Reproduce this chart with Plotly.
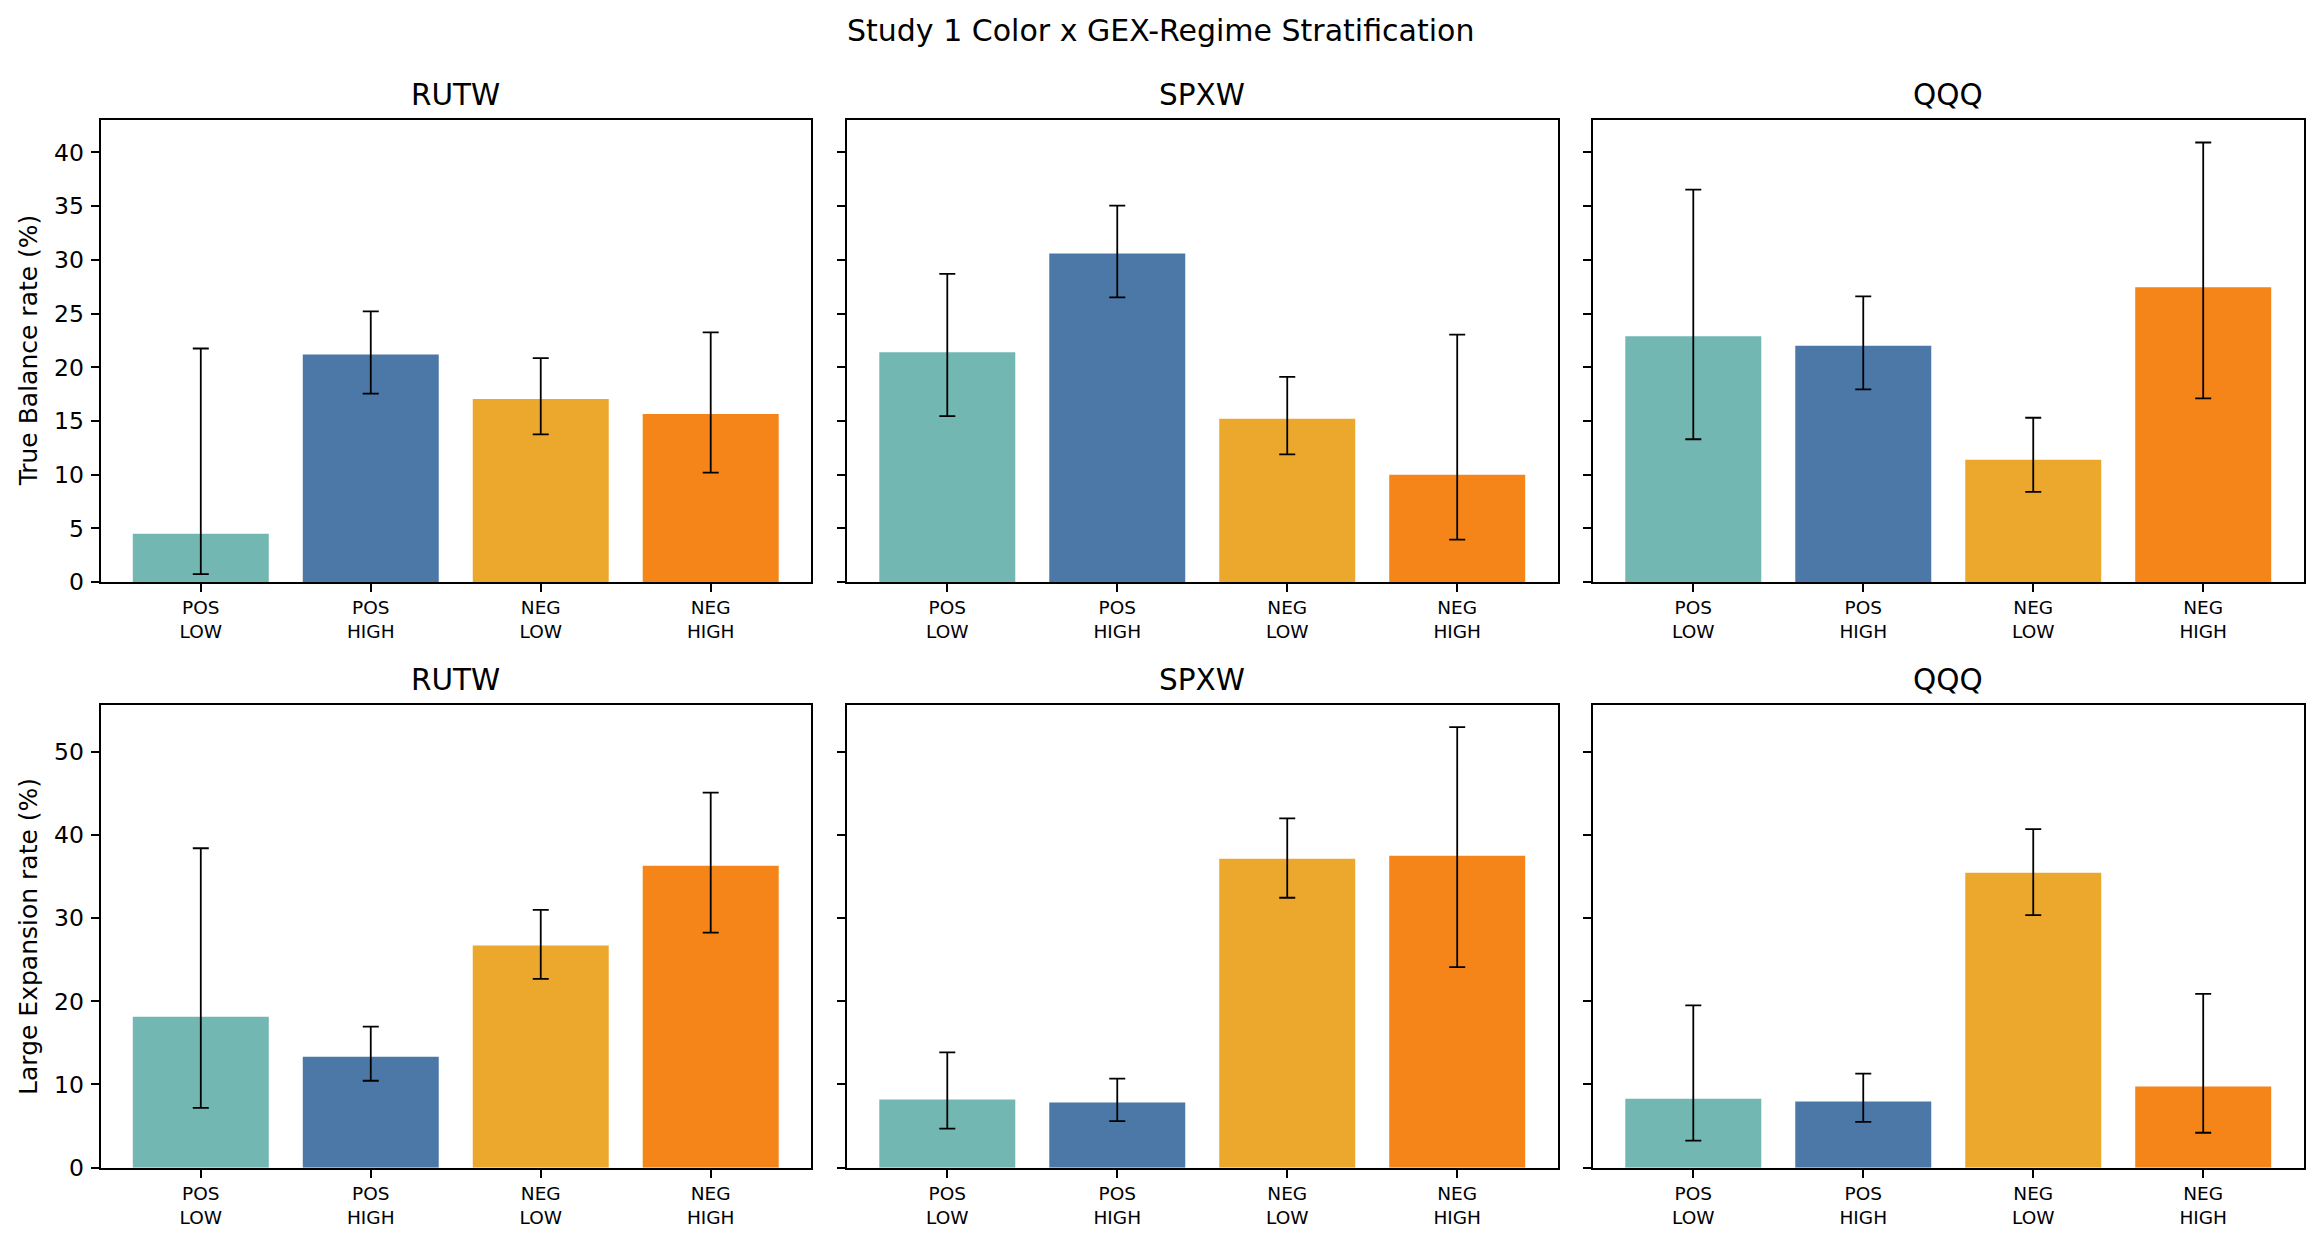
import plotly.graph_objects as go

# ---------------- data ----------------
categories = ["POS<br>LOW", "POS<br>HIGH", "NEG<br>LOW", "NEG<br>HIGH"]
bar_colors = ["#72B7B2", "#4C78A8", "#ECA82C", "#F58518"]
tickers = ["RUTW", "SPXW", "QQQ"]

# True Balance rate (%) : value, CI low, CI high
tb_value = {
    "RUTW": [4.5, 21.2, 17.05, 15.65],
    "SPXW": [21.4, 30.6, 15.2, 10.0],
    "QQQ":  [22.9, 22.0, 11.4, 27.45],
}
tb_low = {
    "RUTW": [0.75, 17.55, 13.75, 10.2],
    "SPXW": [15.45, 26.5, 11.9, 3.95],
    "QQQ":  [13.3, 17.95, 8.4, 17.1],
}
tb_high = {
    "RUTW": [21.75, 25.2, 20.85, 23.25],
    "SPXW": [28.7, 35.05, 19.1, 23.05],
    "QQQ":  [36.55, 26.6, 15.3, 40.93],
}

# Large Expansion rate (%) : value, CI low, CI high
le_value = {
    "RUTW": [18.15, 13.35, 26.7, 36.3],
    "SPXW": [8.2, 7.85, 37.15, 37.5],
    "QQQ":  [8.3, 7.95, 35.45, 9.75],
}
le_low = {
    "RUTW": [7.2, 10.45, 22.7, 28.25],
    "SPXW": [4.7, 5.6, 32.45, 24.1],
    "QQQ":  [3.25, 5.5, 30.35, 4.2],
}
le_high = {
    "RUTW": [38.4, 16.95, 31.0, 45.1],
    "SPXW": [13.85, 10.7, 42.0, 52.96],
    "QQQ":  [19.5, 11.3, 40.7, 20.9],
}

rows = [
    ("True Balance rate (%)", tb_value, tb_low, tb_high, 43.06, [0, 5, 10, 15, 20, 25, 30, 35, 40]),
    ("Large Expansion rate (%)", le_value, le_low, le_high, 55.6, [0, 10, 20, 30, 40, 50]),
]

# ---------------- layout geometry ----------------
W, H = 2320, 1245
col_px = [(100.5, 811.0), (847.0, 1557.5), (1593.0, 2303.5)]
row_px = [(117.5, 581.5), (705.0, 1169.0)]


def fy(yp):
    # small vertical correction observed in rendering
    return (yp + 2.5) / 0.992


FONT = "DejaVu Sans, Verdana, sans-serif"

fig = go.Figure()
layout = dict(
    width=W, height=H,
    margin=dict(l=0, r=0, t=0, b=0),
    paper_bgcolor="white", plot_bgcolor="white",
    showlegend=False,
    font=dict(family=FONT, color="black"),
    bargap=0.2,
)
annotations = []

idx = 0
for r, (ylab, vals, lows, highs, ymax, ytv) in enumerate(rows):
    y0, y1 = row_px[r]
    ydom = [1 - fy(y1) / H, 1 - fy(y0) / H]
    for c, tk in enumerate(tickers):
        idx += 1
        sfx = "" if idx == 1 else str(idx)
        x0, x1 = col_px[c]
        xdom = [x0 / W, x1 / W]
        v = vals[tk]
        plus = [h - a for h, a in zip(highs[tk], v)]
        minus = [a - l for a, l in zip(v, lows[tk])]
        fig.add_trace(go.Bar(
            x=list(range(len(categories))), y=v,
            width=0.8,
            marker=dict(color=bar_colors, line=dict(width=0)),
            error_y=dict(type="data", symmetric=False, array=plus, arrayminus=minus,
                         color="black", thickness=1.8, width=8),
            xaxis="x" + sfx, yaxis="y" + sfx,
            hoverinfo="skip",
        ))
        layout["xaxis" + sfx] = dict(
            domain=xdom, anchor="y" + sfx, range=[-0.59, 3.59],
            tickmode="array", tickvals=list(range(len(categories))), ticktext=categories,
            ticks="outside", ticklen=8, tickwidth=1.8, tickcolor="black",
            showline=True, linecolor="black", linewidth=1.8, mirror=True,
            showgrid=False, zeroline=False,
            tickfont=dict(size=18.5, family=FONT, color="black"),
            fixedrange=True,
        )
        layout["yaxis" + sfx] = dict(
            domain=ydom, anchor="x" + sfx, range=[0, ymax],
            tickmode="array", tickvals=ytv,
            ticks="outside", ticklen=8, tickwidth=1.8, tickcolor="black",
            showline=True, linecolor="black", linewidth=1.8, mirror=True,
            showgrid=False, zeroline=False,
            showticklabels=(c == 0),
            tickfont=dict(size=23.5, family=FONT, color="black"),
            ticklabelstandoff=2,
            fixedrange=True,
        )
        # subplot title
        annotations.append(dict(
            text=tk, xref="paper", yref="paper",
            x=(x0 + x1) / 2 / W, y=1 - fy(y0 - 6) / H,
            xanchor="center", yanchor="bottom", showarrow=False,
            font=dict(size=29.5, family=FONT, color="black"),
        ))
    # row y label
    annotations.append(dict(
        text=ylab, xref="paper", yref="paper",
        x=28.5 / W, y=1 - fy((y0 + y1) / 2) / H,
        xanchor="center", yanchor="middle", textangle=-90, showarrow=False,
        font=dict(size=25, family=FONT, color="black"),
    ))

annotations.append(dict(
    text="Study 1 Color x GEX-Regime Stratification", xref="paper", yref="paper",
    x=0.5, y=1 - fy(28.5) / H, xanchor="center", yanchor="middle", showarrow=False,
    font=dict(size=30, family=FONT, color="black"),
))
layout["annotations"] = annotations
fig.update_layout(**layout)
fig.write_html("out.html")
